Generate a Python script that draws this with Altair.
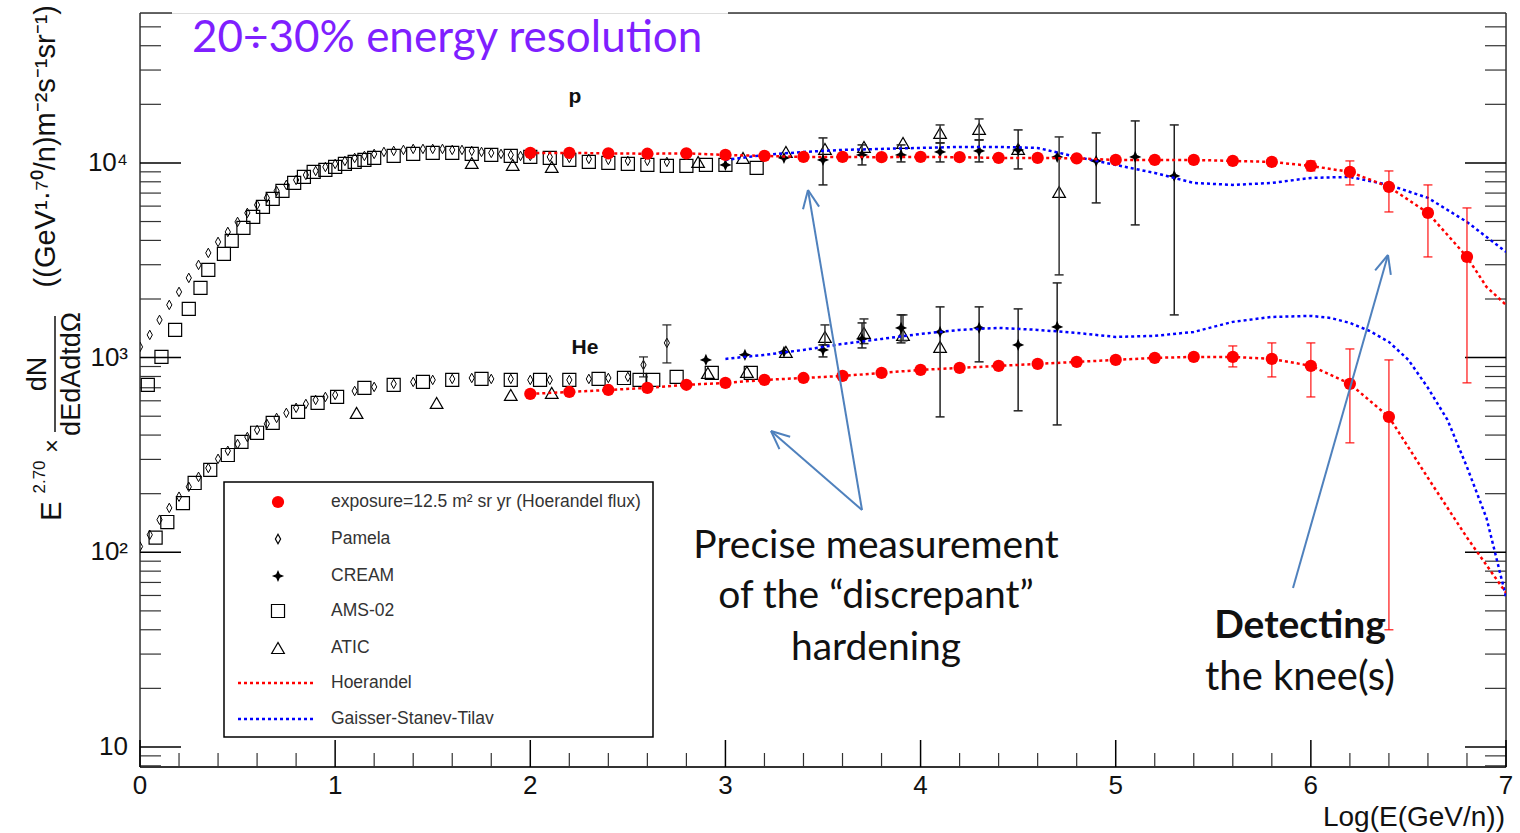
import math
import altair as alt
import pandas as pd

# ---------------- data : x = Log(E(GeV/n)), y = E^2.70 x flux ----------------
# red points: exposure = 12.5 m2 sr yr (Hoerandel flux)
red_p_x = [2.0, 2.2, 2.4, 2.6, 2.8, 3.0, 3.2, 3.4, 3.6, 3.8, 4.0, 4.2, 4.4,
           4.6, 4.8, 5.0, 5.2, 5.4, 5.6, 5.8, 6.0, 6.2, 6.4, 6.6, 6.8]
red_p_y = [11256, 11256, 11200, 11150, 11200, 10992, 10863, 10735, 10735, 10700, 10735, 10700, 10609,
           10609, 10550, 10361, 10361, 10361, 10239, 10119, 9651, 8990, 7530, 5536, 3290]
red_p_ex = [6.0, 6.2, 6.4, 6.6, 6.8]
red_p_lo = [9100, 7710, 5600, 3290, 742]
red_p_hi = [10240, 10240, 9095, 7710, 5873]

red_he_x = [2.0, 2.2, 2.4, 2.6, 2.8, 3.0, 3.2, 3.4, 3.6, 3.8, 4.0, 4.2,
            4.4, 4.6, 4.8, 5.0, 5.2, 5.4, 5.6, 5.8, 6.0, 6.2, 6.4]
red_he_y = [651, 666, 682, 699, 725, 741, 768, 786, 805, 834, 865, 885,
            907, 928, 951, 973, 997, 1008, 1008, 985, 907, 733, 496]
red_he_ex = [5.6, 5.8, 6.0, 6.2, 6.4]
red_he_lo = [896, 796, 628, 365, 40]
red_he_hi = [1148, 1190, 1190, 1108, 973]

# Hoerandel model (red dotted)
hoer_p_x = [2.0, 2.2, 2.4, 2.6, 2.8, 3.0, 3.2, 3.4, 3.6, 3.8, 4.0, 4.2, 4.4,
            4.6, 4.8, 5.0, 5.2, 5.4, 5.6, 5.8, 6.0, 6.2, 6.4, 6.6, 6.8, 6.9, 7.0]
hoer_p_y = [11256, 11256, 11200, 11150, 11200, 10992, 10863, 10735, 10735, 10700, 10735, 10700, 10609,
            10609, 10550, 10361, 10361, 10361, 10239, 10119, 9651, 8990, 7530, 5536, 3290, 2310, 1865]
hoer_he_x = [2.0, 2.2, 2.4, 2.6, 2.8, 3.0, 3.2, 3.4, 3.6, 3.8, 4.0, 4.2,
             4.4, 4.6, 4.8, 5.0, 5.2, 5.4, 5.6, 5.8, 6.0, 6.2, 6.4, 6.6, 6.8, 7.0]
hoer_he_y = [651, 666, 682, 699, 725, 741, 768, 786, 805, 834, 865, 885,
             907, 928, 951, 973, 997, 1008, 1008, 985, 907, 733, 496, 241, 119, 62]

# Gaisser-Stanev-Tilav model (blue dotted)
gst_p_x = [3.0, 3.2, 3.4, 3.6, 3.8, 4.0, 4.2, 4.4, 4.6, 4.8, 5.0, 5.2, 5.4,
           5.6, 5.8, 6.0, 6.2, 6.4, 6.6, 6.8, 7.0]
gst_p_y = [10362, 10991, 11390, 11665, 11804, 11940, 12085, 12085, 11940, 10735, 9766, 8884, 7895,
           7709, 7895, 8374, 8475, 7709, 6612, 4977, 3491]
gst_he_x = [3.0, 3.2, 3.4, 3.6, 3.8, 4.0, 4.2, 4.4, 4.6, 4.8, 5.0, 5.2, 5.4,
            5.6, 5.8, 6.0, 6.1, 6.2, 6.3, 6.4, 6.5, 6.6, 6.7, 6.8, 6.9, 7.0]
gst_he_y = [985, 1033, 1095, 1176, 1247, 1323, 1388, 1421, 1388, 1339, 1277, 1293, 1355,
            1526, 1618, 1638, 1599, 1507, 1372, 1204, 973, 699, 479, 274, 150, 59]

# Pamela
pam_p_x = [0.00, 0.05, 0.10, 0.15, 0.20, 0.25, 0.30, 0.35, 0.40, 0.45, 0.50, 0.55,
           0.60, 0.65, 0.70, 0.75, 0.80, 0.85, 0.90, 0.95, 1.00, 1.05, 1.10, 1.15,
           1.20, 1.25, 1.30, 1.35, 1.40, 1.45, 1.50, 1.55, 1.60, 1.65, 1.70, 1.75,
           1.80, 1.85, 1.90, 1.95, 2.00, 2.10, 2.20, 2.30, 2.40, 2.50, 2.60, 2.70]
pam_p_y = [1135, 1308, 1562, 1865, 2175, 2567, 2994, 3450, 3929, 4422, 4977, 5536,
           6087, 6613, 7183, 7710, 8178, 8676, 9095, 9538, 9882, 10239, 10609, 10863,
           11123, 11389, 11525, 11662, 11801, 11801, 11801, 11801, 11662, 11662, 11525, 11389,
           11256, 11123, 10992, 10863, 10863, 10735, 10609, 10484, 10361, 10239, 10239, 10119]
pam_he_x = [0.00, 0.05, 0.10, 0.15, 0.20, 0.25, 0.30, 0.35, 0.40, 0.45, 0.50, 0.55,
            0.60, 0.65, 0.70, 0.75, 0.80, 0.85, 0.90, 0.95, 1.00, 1.10, 1.20, 1.30,
            1.40, 1.50, 1.60, 1.70, 1.80, 1.90, 2.00, 2.10, 2.20, 2.30, 2.40, 2.50,
            2.58, 2.70]
pam_he_y = [107, 123, 147, 169, 193, 217, 244, 271, 302, 332, 360, 391,
            425, 457, 490, 520, 552, 578, 606, 628, 643, 674, 707, 733,
            750, 768, 777, 786, 777, 777, 768, 768, 768, 777, 786, 796,
            917, 1190]
pam_he_ex = [2.58, 2.70]
pam_he_lo = [796, 939]
pam_he_hi = [1008, 1472]

# CREAM
cream_p_x = [3.0, 3.3, 3.5, 3.7, 3.9, 4.1, 4.3, 4.5, 4.7, 4.9, 5.1, 5.3]
cream_p_y = [9766, 10609, 10361, 10992, 10992, 11389, 11525, 11662, 10735, 10239, 10735, 8574]
cream_p_ex = [3.5, 3.7, 3.9, 4.1, 4.3, 4.5, 4.9, 5.1, 5.3]
cream_p_lo = [7710, 9766, 10119, 10119, 10119, 9314, 6232, 4804, 1657]
cream_p_hi = [13442, 12373, 12373, 12669, 13127, 14775, 14262, 16434, 15672]
cream_he_x = [2.9, 3.1, 3.3, 3.5, 3.7, 3.9, 4.1, 4.3, 4.5, 4.7]
cream_he_y = [973, 1033, 1070, 1095, 1247, 1421, 1355, 1421, 1162, 1438]
cream_he_ex = [3.5, 3.7, 3.9, 4.1, 4.3, 4.5, 4.7]
cream_he_lo = [1008, 1121, 1190, 496, 951, 533, 451]
cream_he_hi = [1162, 1507, 1657, 1822, 1822, 1779, 2419]

# AMS-02
ams_p_x = [0.04, 0.11, 0.18, 0.25, 0.31, 0.35, 0.43, 0.47, 0.53, 0.58, 0.63, 0.68,
           0.73, 0.79, 0.84, 0.89, 0.95, 1.00, 1.05, 1.10, 1.15, 1.20, 1.30, 1.40,
           1.50, 1.60, 1.70, 1.80, 1.90, 2.00, 2.10, 2.20, 2.30, 2.40, 2.50, 2.60,
           2.70, 2.80, 2.90, 3.00, 3.16]
ams_p_y = [724, 1008, 1388, 1779, 2280, 2821, 3409, 3976, 4637, 5281, 5943, 6535,
           7183, 7894, 8475, 8990, 9205, 9538, 9882, 10119, 10361, 10609, 10863, 11123,
           11256, 11256, 11123, 10992, 10863, 10735, 10609, 10361, 10119, 10000, 9882, 9766,
           9651, 9651, 9766, 9766, 9426]
ams_he_x = [0.08, 0.14, 0.22, 0.28, 0.36, 0.45, 0.52, 0.60, 0.68, 0.81, 0.91, 1.01,
            1.15, 1.30, 1.45, 1.60, 1.75, 1.90, 2.05, 2.20, 2.35, 2.48, 2.56, 2.63,
            2.75, 2.93, 3.13]
ams_he_y = [119, 143, 179, 227, 265, 316, 369, 411, 462, 526, 585, 628,
            699, 724, 750, 768, 777, 768, 768, 768, 777, 786, 768, 768,
            796, 834, 834]

# ATIC
atic_p_x = [1.70, 1.91, 2.11, 2.86, 3.09, 3.31, 3.51, 3.71, 3.91, 4.10, 4.30, 4.50, 4.71]
atic_p_y = [10000, 9766, 9538, 10119, 10609, 11389, 11801, 12084, 12669, 14262, 14951, 11801, 7098]
atic_p_ex = [4.10, 4.30, 4.71]
atic_p_lo = [12669, 13127, 2660]
atic_p_hi = [15672, 16827, 13600]
atic_he_x = [1.11, 1.52, 1.90, 2.11, 2.91, 3.11, 3.31, 3.51, 3.71, 3.91, 4.10]
atic_he_y = [520, 585, 643, 659, 834, 844, 1070, 1277, 1339, 1308, 1135]
atic_he_ex = [3.51, 3.71, 3.91]
atic_he_lo = [1162, 1180, 1220]
atic_he_hi = [1472, 1580, 1657]

x_tick_labels = ["0", "1", "2", "3", "4", "5", "6", "7"]
y_tick_values = [10, 100, 1000, 10000]
y_tick_labels = ["10", "10²", "10³", "10⁴"]

legend_labels = ["exposure=12.5 m² sr yr (Hoerandel flux)", "Pamela", "CREAM",
                 "AMS-02", "ATIC", "Hoerandel", "Gaisser-Stanev-Tilav"]

# ---------------- layout ----------------
W, H = 1366, 754
PL, PT = 140, 13
YMIN, YMAX = 7.89, 58900

xs = alt.Scale(domain=[0, 7], nice=False, zero=False)
ys = alt.Scale(type="log", domain=[YMIN, YMAX], nice=False)
DUMMY = alt.Data(values=[{"d": 1}])

PAM_SHAPE = "M0,-1L0.55,0L0,1L-0.55,0Z"
CREAM_SHAPE = "M0,-1L0.3,-0.3L1,0L0.3,0.3L0,1L-0.3,0.3L-1,0L-0.3,-0.3Z"
FRAME = "#333333"


def X(f="x"):
    return alt.X(f"{f}:Q", scale=xs, axis=None)


def Y(f="y"):
    return alt.Y(f"{f}:Q", scale=ys, axis=None)


def pts(xv, yv, shape, size, color, filled, sw=1.2):
    df = pd.DataFrame({"x": xv, "y": yv})
    return alt.Chart(df).mark_point(shape=shape, size=size, filled=filled, color=color,
                                    strokeWidth=sw, opacity=1, clip=True).encode(x=X(), y=Y())


def errs(xv, lo, hi, color, sw=1.5, op=1.0):
    df = pd.DataFrame({"x": xv, "lo": lo, "hi": hi})
    bar = alt.Chart(df).mark_rule(color=color, strokeWidth=sw, opacity=op, clip=True).encode(
        x=X(), y=Y("lo"), y2="hi:Q")
    c1 = alt.Chart(df).mark_tick(color=color, orient="horizontal", size=9, thickness=sw,
                                 opacity=op, clip=True).encode(x=X(), y=Y("lo"))
    c2 = alt.Chart(df).mark_tick(color=color, orient="horizontal", size=9, thickness=sw,
                                 opacity=op, clip=True).encode(x=X(), y=Y("hi"))
    return [bar, c1, c2]


def line(xv, yv, color):
    df = pd.DataFrame({"x": xv, "y": yv})
    return alt.Chart(df).mark_line(color=color, strokeWidth=2.5, strokeDash=[3, 3],
                                   clip=True).encode(x=X(), y=Y())


def ptext(text, px, py, size, **kw):
    return alt.Chart(DUMMY).mark_text(text=text, fontSize=size, **kw).encode(
        x=alt.value(px - PL), y=alt.value(py - PT))


def pline(x0, y0, x1, y1, color, width=1.5, dash=None):
    kw = dict(color=color, strokeWidth=width)
    if dash:
        kw["strokeDash"] = dash
    return alt.Chart(DUMMY).mark_rule(**kw).encode(
        x=alt.value(x0 - PL), y=alt.value(y0 - PT), x2=alt.value(x1 - PL), y2=alt.value(y1 - PT))


def arrow(x0, y0, x1, y1, color="#4F81BD"):
    ang = math.atan2(y0 - y1, x0 - x1)
    L = 20
    out = [pline(x0, y0, x1, y1, color, 2)]
    for d in (0.42, -0.42):
        out.append(pline(x1, y1, x1 + L * math.cos(ang + d), y1 + L * math.sin(ang + d), color, 2))
    return out


layers = []

# frame
layers += [pline(140, 13, 140, 767, FRAME), pline(1506, 13, 1506, 767, FRAME),
           pline(140, 767, 1506, 767, FRAME, 1.8),
           pline(140, 13, 172, 13, FRAME), pline(728, 13, 1506, 13, FRAME)]

# y ticks (inside, both sides)
ytk = []
for n in range(0, 5):
    for k in range(1, 10):
        v = k * 10 ** n
        if YMIN <= v <= YMAX:
            ytk.append({"v": v, "major": k == 1})
ytk = pd.DataFrame(ytk)
maj = ytk[ytk.major]
mnr = ytk[~ytk.major]
layers += [
    alt.Chart(maj).mark_rule(color="black", strokeWidth=1.5).encode(y=Y("v"), x=alt.value(0), x2=alt.value(41)),
    alt.Chart(mnr).mark_rule(color=FRAME, strokeWidth=1.2).encode(y=Y("v"), x=alt.value(0), x2=alt.value(21)),
    alt.Chart(maj).mark_rule(color="black", strokeWidth=1.5).encode(y=Y("v"), x=alt.value(W), x2=alt.value(W - 41)),
    alt.Chart(mnr).mark_rule(color=FRAME, strokeWidth=1.2).encode(y=Y("v"), x=alt.value(W), x2=alt.value(W - 21)),
]
# x ticks
xtk = pd.DataFrame({"v": [i / 5 for i in range(0, 36)], "major": [i % 5 == 0 for i in range(0, 36)]})
layers += [
    alt.Chart(xtk[xtk.major]).mark_rule(color="black", strokeWidth=1.5).encode(x=X("v"), y=alt.value(H), y2=alt.value(H - 27)),
    alt.Chart(xtk[~xtk.major]).mark_rule(color=FRAME, strokeWidth=1.2).encode(x=X("v"), y=alt.value(H), y2=alt.value(H - 14)),
]
# tick labels
xl = pd.DataFrame({"v": list(range(8)), "t": x_tick_labels})
layers.append(alt.Chart(xl).mark_text(fontSize=26, baseline="top", color="#111").encode(
    x=X("v"), y=alt.value(H + 6), text="t:N"))
yl = pd.DataFrame({"v": y_tick_values, "t": y_tick_labels})
layers.append(alt.Chart(yl).mark_text(fontSize=26, align="right", baseline="middle", color="#111").encode(
    y=Y("v"), x=alt.value(-12), text="t:N"))

# axis titles
layers.append(ptext("Log(E(GeV/n))", 1505, 818, 28, align="right", baseline="middle", color="#111"))
YT = dict(angle=270, baseline="middle", color="#111")
layers.append(ptext("((GeV¹·⁷⁰/n)m⁻²s⁻¹sr⁻¹)", 46, 5, 29, align="right", **YT))
layers.append(ptext("dN", 38, 374, 27, align="center", **YT))
layers.append(pline(55, 316, 55, 432, "#111", 1.5))
layers.append(ptext("dEdAdtdΩ", 72, 374, 27, align="center", **YT))
layers.append(ptext("×", 53, 446, 24, align="center", **YT))
layers.append(ptext("2.70", 40, 477, 17, align="center", **YT))
layers.append(ptext("E", 52, 511, 29, align="center", **YT))

# data: experiments
layers.append(pts(ams_p_x, ams_p_y, "square", 170, "black", False))
layers.append(pts(ams_he_x, ams_he_y, "square", 170, "black", False))
layers.append(pts(pam_p_x, pam_p_y, PAM_SHAPE, 90, "black", False, 1.0))
layers.append(pts(pam_he_x, pam_he_y, PAM_SHAPE, 90, "black", False, 1.0))
layers += errs(pam_he_ex, pam_he_lo, pam_he_hi, "#222", 1.2)
layers.append(pts(atic_p_x, atic_p_y, "triangle-up", 160, "black", False))
layers.append(pts(atic_he_x, atic_he_y, "triangle-up", 160, "black", False))
layers += errs(atic_p_ex, atic_p_lo, atic_p_hi, "#333")
layers += errs(atic_he_ex, atic_he_lo, atic_he_hi, "#333")
layers += errs(cream_p_ex, cream_p_lo, cream_p_hi, "#222")
layers += errs(cream_he_ex, cream_he_lo, cream_he_hi, "#222")
layers.append(pts(cream_p_x, cream_p_y, CREAM_SHAPE, 150, "black", True))
layers.append(pts(cream_he_x, cream_he_y, CREAM_SHAPE, 150, "black", True))

# models
layers.append(line(gst_p_x, gst_p_y, "#0000ff"))
layers.append(line(gst_he_x, gst_he_y, "#0000ff"))
layers.append(line(hoer_p_x, hoer_p_y, "#ff0000"))
layers.append(line(hoer_he_x, hoer_he_y, "#ff0000"))

# red exposure points
layers += errs(red_p_ex, red_p_lo, red_p_hi, "#ff0000", 1.5, 0.75)
layers += errs(red_he_ex, red_he_lo, red_he_hi, "#ff0000", 1.5, 0.75)
layers.append(pts(red_p_x, red_p_y, "circle", 150, "#ff0000", True))
layers.append(pts(red_he_x, red_he_y, "circle", 150, "#ff0000", True))

# species labels
layers.append(ptext("p", 575, 97, 21, fontWeight="bold", align="center", baseline="middle", color="#111"))
layers.append(ptext("He", 585, 348, 21, fontWeight="bold", align="center", baseline="middle", color="#111"))

# legend
layers.append(alt.Chart(DUMMY).mark_rect(fill="white", stroke="black", strokeWidth=1.5).encode(
    x=alt.value(224 - PL), x2=alt.value(653 - PL), y=alt.value(482 - PT), y2=alt.value(737 - PT)))
leg_y = [502, 539, 576, 611, 648, 683, 719]
sym = [("circle", 150, "#ff0000", True), (PAM_SHAPE, 90, "black", False), (CREAM_SHAPE, 150, "black", True),
       ("square", 170, "black", False), ("triangle-up", 160, "black", False)]
for (shape, size, col, fill), yy in zip(sym, leg_y[:5]):
    layers.append(alt.Chart(DUMMY).mark_point(shape=shape, size=size, color=col, filled=fill,
                                              opacity=1, strokeWidth=1.2).encode(
        x=alt.value(278 - PL), y=alt.value(yy - PT)))
layers.append(pline(238, 683, 316, 683, "#ff0000", 2.5, [3, 3]))
layers.append(pline(238, 719, 316, 719, "#0000ff", 2.5, [3, 3]))
for lab, yy in zip(legend_labels, leg_y):
    layers.append(ptext(lab, 331, yy, 17.5, align="left", baseline="middle", color="#333"))

# annotations
layers += arrow(862, 510, 808, 190)
layers += arrow(862, 510, 771, 431)
layers += arrow(1293, 588, 1388, 255)
ANN = dict(font="Lato", align="center", baseline="middle", color="#111")
layers.append(ptext("Precise measurement", 876, 546, 39, **ANN))
layers.append(ptext("of the “discrepant”", 876, 596, 39, **ANN))
layers.append(ptext("hardening", 876, 648, 39, **ANN))
layers.append(ptext("Detecting", 1300, 626, 39, fontWeight="bold", **ANN))
layers.append(ptext("the knee(s)", 1300, 678, 40, **ANN))
layers.append(ptext("20÷30% energy resolution", 192, 52, 44, font="Lato", align="left",
                    baseline="alphabetic", color="#7F1FFF"))

chart = alt.layer(*layers).properties(
    width=W, height=H,
    padding={"left": PL, "top": PT, "right": 1520 - PL - W, "bottom": 833 - PT - H},
    autosize=alt.AutoSizeParams(type="none"),
).configure_view(stroke="transparent").configure(font="Liberation Sans", background="white")

chart.save("out.html", embed_options={"renderer": "svg", "actions": False})
